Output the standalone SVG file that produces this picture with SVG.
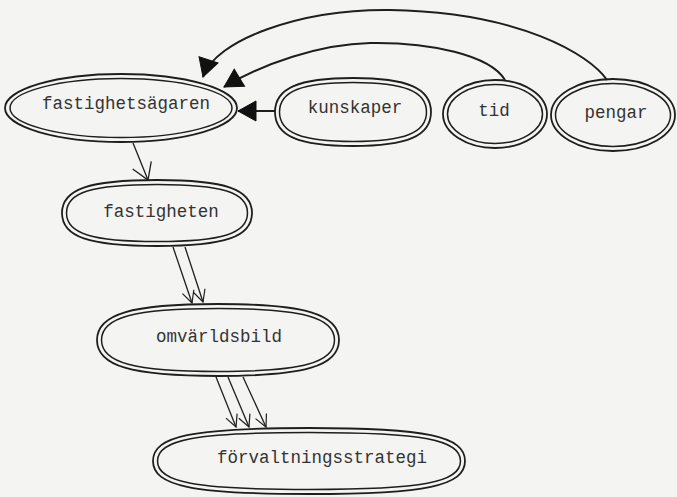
<svg xmlns="http://www.w3.org/2000/svg" width="677" height="497" viewBox="0 0 677 497">
  <style>
    .o { fill: none; stroke: #1e1e1e; stroke-width: 1.8; }
    .i { fill: none; stroke: #1e1e1e; stroke-width: 1.5; }
    .t { font-family: "Liberation Mono", "DejaVu Sans Mono", monospace; font-size: 17.5px; fill: #333; text-anchor: middle; }
    .c { fill: none; stroke: #1e1e1e; stroke-width: 2; }
    .l { fill: none; stroke: #1e1e1e; stroke-width: 1.3; }
  </style>
  <defs>
    <marker id="solid" markerUnits="userSpaceOnUse" markerWidth="22" markerHeight="24" refX="19" refY="11" orient="auto" viewBox="0 0 22 24">
      <path d="M1,1 L19,11 L1,21 z" fill="#111" stroke="#111" stroke-width="1"/>
    </marker>
    <marker id="open" markerUnits="userSpaceOnUse" markerWidth="20" markerHeight="24" refX="17" refY="11" orient="auto" viewBox="0 0 20 24">
      <path d="M1,1 L17,11 L1,21" fill="none" stroke="#1e1e1e" stroke-width="1.3"/>
    </marker>
    <marker id="small" markerUnits="userSpaceOnUse" markerWidth="16" markerHeight="16" refX="13" refY="7" orient="auto" viewBox="0 0 16 16">
      <path d="M1,1 L13,7 L1,13" fill="none" stroke="#1e1e1e" stroke-width="1.2"/>
    </marker>
  </defs>
  <rect width="677" height="497" fill="#f4f4f2"/>

  <g id="connectors">
    <path class="c" d="M607,80 C590,55 520,12 390,10 C300,9 215,40 203,77" marker-end="url(#solid)"/>
    <path class="c" d="M505,80 C490,55 430,42 370,43 C320,44 262,64 224,87" marker-end="url(#solid)"/>
    <path class="c" d="M275,111 L238,111" marker-end="url(#solid)"/>
    <path class="l" d="M133,143 L148,180" marker-end="url(#open)"/>
    <path class="l" d="M173,247 L192,303" marker-end="url(#small)"/>
    <path class="l" d="M185,247 L203,302" marker-end="url(#small)"/>
    <path class="l" d="M216,377 L236,427" marker-end="url(#small)"/>
    <path class="l" d="M228,377 L249,427" marker-end="url(#small)"/>
    <path class="l" d="M243,377 L266,427" marker-end="url(#small)"/>
  </g>

  <g id="fastighetsagaren">
    <ellipse class="o" cx="121" cy="108" rx="116" ry="34"/>
    <ellipse class="i" cx="121" cy="108" rx="111" ry="29.5"/>
    <text class="t" x="126" y="109">fastighetsägaren</text>
  </g>
  <g id="kunskaper">
    <path class="o" d="M275,112 C275,88.2 298.4,78 353,78 C407.6,78 431,88.2 431,112 C431,135.8 407.6,146 353,146 C298.4,146 275,135.8 275,112 Z"/>
    <path class="i" d="M279.5,112 C279.5,91.3 301.5,82.5 353,82.5 C404.5,82.5 426.5,91.3 426.5,112 C426.5,132.7 404.5,141.5 353,141.5 C301.5,141.5 279.5,132.7 279.5,112 Z"/>
    <text class="t" x="355" y="113">kunskaper</text>
  </g>
  <g id="tid">
    <ellipse class="o" cx="495" cy="114" rx="52" ry="34"/>
    <ellipse class="i" cx="495" cy="114" rx="47.5" ry="29.5"/>
    <text class="t" x="494" y="116">tid</text>
  </g>
  <g id="pengar">
    <ellipse class="o" cx="613" cy="115" rx="62" ry="36"/>
    <ellipse class="i" cx="613" cy="115" rx="57.5" ry="31.5"/>
    <text class="t" x="616" y="118">pengar</text>
  </g>
  <g id="fastigheten">
    <path class="o" d="M62,213 C62,189.2 88.6,180 157,180 C225.4,180 252,189.2 252,213 C252,236.8 225.4,246 157,246 C88.6,246 62,236.8 62,213 Z"/>
    <path class="i" d="M66.5,213 C66.5,192.5 91.8,184.5 157,184.5 C222.2,184.5 247.5,192.5 247.5,213 C247.5,233.5 222.2,241.5 157,241.5 C91.8,241.5 66.5,233.5 66.5,213 Z"/>
    <text class="t" x="161" y="217">fastigheten</text>
  </g>
  <g id="omvarldsbild">
    <path class="o" d="M97,340 C97,314.1 130.9,304 218,304 C305.1,304 339,314.1 339,340 C339,365.9 305.1,376 218,376 C130.9,376 97,365.9 97,340 Z"/>
    <path class="i" d="M101.5,340 C101.5,317.3 134.1,308.5 218,308.5 C301.9,308.5 334.5,317.3 334.5,340 C334.5,362.7 301.9,371.5 218,371.5 C134.1,371.5 101.5,362.7 101.5,340 Z"/>
    <text class="t" x="219" y="342">omvärldsbild</text>
  </g>
  <g id="forvaltningsstrategi">
    <path class="o" d="M153,461 C153,436.25 192,428 309,428 C426,428 465,436.25 465,461 C465,485.75 426,494 309,494 C192,494 153,485.75 153,461 Z"/>
    <path class="i" d="M157.5,461 C157.5,439.6 195.4,432.5 309,432.5 C422.6,432.5 460.5,439.6 460.5,461 C460.5,482.4 422.6,489.5 309,489.5 C195.4,489.5 157.5,482.4 157.5,461 Z"/>
    <text class="t" x="322" y="463">förvaltningsstrategi</text>
  </g>
</svg>
